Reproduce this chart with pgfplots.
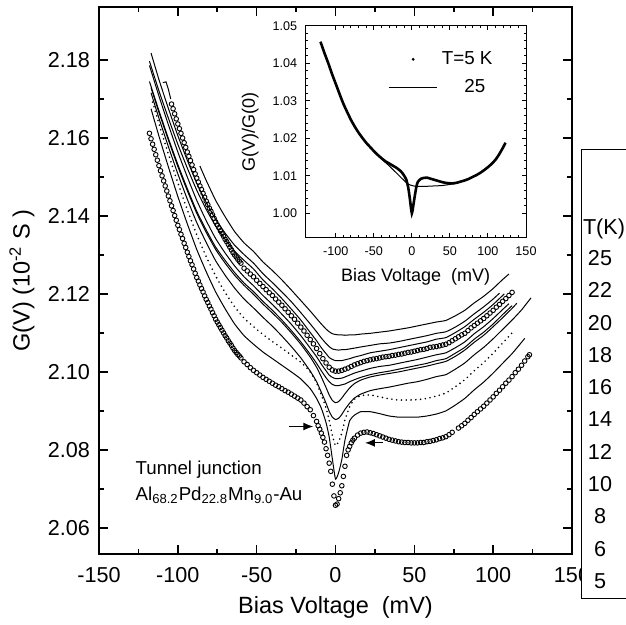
\documentclass[border=0pt]{standalone}
\usepackage{fontspec}
\setmainfont{Liberation Sans}
\usepackage{pgfplots}
\pgfplotsset{compat=1.18}
\usetikzlibrary{arrows.meta}
\pgfplotsset{
  lin/.style={black, line width=0.5pt, smooth, tension=0.3, mark=none},
  circ/.style={black, only marks, mark=o, mark size=1.15pt, mark options={line width=0.45pt}},
  dots/.style={black, line width=0.9pt, line cap=round, dash pattern=on 0pt off 2.4pt, smooth, tension=0.3},
}
\begin{document}
\begin{tikzpicture}
\begin{axis}[
  scale only axis, width=236.5pt, height=273.5pt,
  xmin=-150, xmax=150, ymin=2.0533, ymax=2.1936,
  xtick={-150,-100,-50,0,50,100,150},
  xticklabels={-150,-100,-50,0,50,100,150},
  ytick={2.06,2.08,2.10,2.12,2.14,2.16,2.18},
  yticklabels={2.06,2.08,2.10,2.12,2.14,2.16,2.18},
  minor x tick num=1, minor y tick num=1,
  tick align=inside,
  major tick length=4.5pt, minor tick length=2.5pt,
  axis line style={line width=0.8pt},
  tick style={line width=0.8pt, black},
  ticklabel style={font=\fontsize{10.8}{13}\selectfont},
  xticklabel style={yshift=-3pt},
  yticklabel style={xshift=-1pt},
  xlabel={Bias Voltage\ \ (mV)},
  ylabel={G(V) (10\textsuperscript{-2} S )},
  label style={font=\fontsize{11.75}{14}\selectfont},
  xlabel style={at={(axis description cs:0.5,-0.097)}, anchor=center},
  ylabel style={at={(axis description cs:-0.163,0.5)}, anchor=center},
]
% 25 K
\addplot[lin] coordinates {(-86,2.1528)(-82,2.1491)(-76,2.1440)(-70,2.1398)(-64,2.1360)(-58,2.1331)(-52,2.1309)(-46,2.1282)(-40,2.1260)(-34,2.1236)(-28,2.1210)(-22,2.1183)(-16,2.1156)(-12,2.1137)(-9,2.1123)(-6,2.1110)(-4,2.1103)(-2,2.1098)(0,2.1096)(2,2.1095)(4,2.1095)(6,2.1094)(9,2.1095)(12,2.1095)(16,2.1097)(22,2.1099)(28,2.1102)(34,2.1105)(40,2.1109)(46,2.1113)(52,2.1118)(58,2.1123)(64,2.1128)(70,2.1132)(76,2.1144)(82,2.1158)(88,2.1177)(94,2.1194)(100,2.1214)(106,2.1237)(110,2.1251)};
% 22 K
\addplot[lin] coordinates {(-117,2.1818)(-112,2.1750)(-106,2.1676)(-100,2.1606)(-94,2.1543)(-88,2.1484)(-82,2.1435)(-76,2.1391)(-70,2.1356)(-64,2.1325)(-58,2.1301)(-52,2.1279)(-46,2.1252)(-40,2.1229)(-34,2.1205)(-28,2.1180)(-22,2.1152)(-16,2.1123)(-12,2.1103)(-9,2.1087)(-6,2.1073)(-4,2.1065)(-2,2.1059)(0,2.1057)(2,2.1056)(4,2.1057)(6,2.1057)(9,2.1059)(12,2.1061)(16,2.1064)(22,2.1068)(28,2.1072)(34,2.1074)(40,2.1078)(46,2.1083)(52,2.1088)(58,2.1093)(64,2.1099)(70,2.1103)(76,2.1115)(82,2.1130)(88,2.1149)(94,2.1167)(100,2.1187)(104,2.1202)};
% 20 K
\addplot[lin] coordinates {(-118,2.1797)(-112,2.1721)(-106,2.1651)(-100,2.1584)(-94,2.1523)(-88,2.1466)(-82,2.1417)(-76,2.1374)(-70,2.1340)(-64,2.1310)(-58,2.1286)(-52,2.1264)(-46,2.1236)(-40,2.1213)(-34,2.1188)(-28,2.1161)(-22,2.1133)(-16,2.1101)(-12,2.1080)(-9,2.1062)(-6,2.1047)(-4,2.1037)(-2,2.1032)(0,2.1029)(2,2.1029)(4,2.1029)(6,2.1031)(9,2.1034)(12,2.1038)(16,2.1042)(22,2.1049)(28,2.1053)(34,2.1057)(40,2.1062)(46,2.1067)(52,2.1072)(58,2.1077)(64,2.1084)(70,2.1088)(76,2.1101)(82,2.1116)(88,2.1135)(94,2.1153)(100,2.1173)(107,2.1200)};
% short lead-in segment before the 18 K circles
\addplot[black, line width=0.5pt] coordinates {(-109.5,2.1742)(-107.5,2.1744)(-106,2.1725)(-104.5,2.1700)};
% 18 K (circles)
\addplot[circ] coordinates {(-104,2.1687)(-103,2.1675)(-102,2.1662)(-101,2.1649)(-100,2.1636)(-99,2.1624)(-98,2.1612)(-97,2.1600)(-96,2.1588)(-95,2.1576)(-94,2.1564)(-93,2.1553)(-92,2.1542)(-91,2.1531)(-90,2.1519)(-89,2.1508)(-88,2.1497)(-87,2.1487)(-86,2.1477)(-85,2.1468)(-84,2.1458)(-83,2.1448)(-82,2.1438)(-81,2.1429)(-80,2.1420)(-79,2.1412)(-78,2.1403)(-77,2.1394)(-76,2.1385)(-75,2.1377)(-74,2.1370)(-73,2.1362)(-72,2.1355)(-71,2.1348)(-70,2.1340)(-69,2.1334)(-68,2.1327)(-67,2.1320)(-66,2.1313)(-65,2.1306)(-64,2.1300)(-63,2.1295)(-62,2.1289)(-61,2.1284)(-60,2.1279)
(-58,2.1266)(-56,2.1259)(-54,2.1251)(-52,2.1244)(-50,2.1235)(-48,2.1227)(-46,2.1219)(-44,2.1211)(-42,2.1203)(-40,2.1196)(-38,2.1187)(-36,2.1179)(-34,2.1171)(-32,2.1162)(-30,2.1153)(-28,2.1144)(-26,2.1135)(-24,2.1125)(-22,2.1115)(-20,2.1105)(-18,2.1094)(-16,2.1083)(-14,2.1072)(-12,2.1060)(-10,2.1047)(-8,2.1034)(-6,2.1023)(-4,2.1012)(-2,2.1005)(0,2.1002)(2,2.1002)(4,2.1004)(6,2.1007)(8,2.1010)(10,2.1014)(12,2.1018)(14,2.1021)(16,2.1024)(18,2.1027)(20,2.1029)(22,2.1031)(24,2.1033)(26,2.1034)(28,2.1036)(30,2.1038)(32,2.1039)(34,2.1040)(36,2.1042)(38,2.1043)(40,2.1045)(42,2.1046)(44,2.1048)(46,2.1050)(48,2.1051)(50,2.1053)(52,2.1055)(54,2.1057)(56,2.1058)(58,2.1060)(60,2.1063)(62,2.1064)(64,2.1065)(66,2.1067)(68,2.1069)(70,2.1071)(72,2.1075)(74,2.1080)(76,2.1085)(78,2.1090)(80,2.1095)(82,2.1099)(84,2.1106)(86,2.1113)(88,2.1119)(90,2.1125)(92,2.1131)(94,2.1137)(96,2.1144)(98,2.1151)(100,2.1158)(102,2.1166)(104,2.1173)(106,2.1181)(108,2.1188)(110,2.1196)(112,2.1204)};
% 16 K
\addplot[lin] coordinates {(-118,2.1786)(-112,2.1708)(-106,2.1634)(-100,2.1564)(-94,2.1500)(-88,2.1440)(-82,2.1388)(-76,2.1342)(-70,2.1305)(-64,2.1272)(-58,2.1244)(-52,2.1221)(-46,2.1196)(-40,2.1173)(-34,2.1148)(-28,2.1122)(-22,2.1093)(-16,2.1061)(-12,2.1039)(-9,2.1020)(-6,2.1003)(-4,2.0992)(-2,2.0986)(0,2.0983)(2,2.0983)(4,2.0984)(6,2.0987)(9,2.0992)(12,2.0997)(16,2.1002)(22,2.1009)(28,2.1014)(34,2.1017)(40,2.1022)(46,2.1027)(52,2.1032)(58,2.1038)(64,2.1044)(70,2.1049)(76,2.1062)(82,2.1077)(88,2.1098)(94,2.1116)(100,2.1137)(106,2.1160)(110,2.1175)};
% 14 K
\addplot[lin] coordinates {(-118,2.1745)(-112,2.1670)(-106,2.1599)(-100,2.1532)(-94,2.1470)(-88,2.1412)(-82,2.1364)(-76,2.1320)(-70,2.1286)(-64,2.1255)(-58,2.1228)(-52,2.1206)(-46,2.1181)(-40,2.1158)(-34,2.1133)(-28,2.1106)(-22,2.1077)(-16,2.1045)(-12,2.1022)(-9,2.1003)(-6,2.0985)(-4,2.0975)(-2,2.0968)(0,2.0965)(2,2.0965)(4,2.0967)(6,2.0969)(9,2.0975)(12,2.0980)(16,2.0986)(22,2.0993)(28,2.0998)(34,2.1002)(40,2.1007)(46,2.1012)(52,2.1017)(58,2.1022)(64,2.1029)(70,2.1034)(76,2.1048)(82,2.1063)(88,2.1084)(94,2.1102)(100,2.1123)(106,2.1147)(112,2.1170)};
% 12 K
\addplot[lin] coordinates {(-117,2.1729)(-112,2.1666)(-106,2.1595)(-100,2.1527)(-94,2.1465)(-88,2.1407)(-82,2.1358)(-76,2.1314)(-70,2.1279)(-64,2.1248)(-58,2.1222)(-52,2.1199)(-46,2.1174)(-40,2.1151)(-34,2.1127)(-28,2.1100)(-22,2.1071)(-16,2.1038)(-12,2.1012)(-9,2.0987)(-6,2.0960)(-4,2.0941)(-2,2.0927)(0,2.0921)(2,2.0924)(4,2.0933)(6,2.0944)(9,2.0959)(12,2.0970)(16,2.0979)(22,2.0987)(28,2.0992)(34,2.0996)(40,2.1000)(46,2.1005)(52,2.1010)(58,2.1015)(64,2.1021)(70,2.1027)(76,2.1040)(82,2.1056)(88,2.1076)(94,2.1094)(100,2.1116)(106,2.1139)(112,2.1163)(115,2.1176)};
% 10 K
\addplot[lin] coordinates {(-117,2.1716)(-112,2.1651)(-106,2.1578)(-100,2.1508)(-94,2.1443)(-88,2.1383)(-82,2.1332)(-76,2.1285)(-70,2.1248)(-64,2.1215)(-58,2.1187)(-52,2.1164)(-46,2.1140)(-40,2.1117)(-34,2.1092)(-28,2.1065)(-22,2.1036)(-16,2.1002)(-12,2.0975)(-9,2.0948)(-6,2.0920)(-4,2.0899)(-2,2.0884)(0,2.0878)(2,2.0881)(4,2.0891)(6,2.0904)(9,2.0920)(12,2.0933)(16,2.0943)(22,2.0952)(28,2.0957)(34,2.0961)(40,2.0966)(46,2.0971)(52,2.0975)(58,2.0981)(64,2.0988)(70,2.0993)(76,2.1007)(82,2.1023)(88,2.1044)(94,2.1063)(100,2.1085)(106,2.1109)(112,2.1133)(118,2.1159)(124,2.1190)};
% 8 K (dots)
\addplot[dots] coordinates {(-116,2.1692)(-112,2.1637)(-106,2.1559)(-100,2.1485)(-94,2.1416)(-88,2.1352)(-82,2.1296)(-76,2.1246)(-70,2.1204)(-64,2.1167)(-58,2.1138)(-52,2.1116)(-46,2.1096)(-40,2.1078)(-34,2.1061)(-28,2.1043)(-22,2.1025)(-16,2.1000)(-12,2.0972)(-9,2.0941)(-6,2.0908)(-4,2.0876)(-2,2.0837)(0,2.0811)(2,2.0821)(4,2.0843)(6,2.0877)(9,2.0911)(12,2.0930)(16,2.0939)(22,2.0941)(28,2.0936)(34,2.0931)(40,2.0928)(46,2.0928)(52,2.0929)(58,2.0932)(64,2.0938)(70,2.0946)(76,2.0962)(82,2.0980)(88,2.1003)(94,2.1024)(100,2.1048)(106,2.1074)(112,2.1100)};
% 6 K
\addplot[lin] coordinates {(-117,2.1675)(-112,2.1605)(-106,2.1526)(-100,2.1450)(-94,2.1380)(-88,2.1314)(-82,2.1257)(-76,2.1205)(-70,2.1162)(-64,2.1123)(-58,2.1093)(-52,2.1071)(-46,2.1051)(-40,2.1034)(-34,2.1017)(-28,2.1000)(-22,2.0982)(-16,2.0957)(-12,2.0932)(-9,2.0907)(-6,2.0870)(-4,2.0833)(-2,2.0777)(0,2.0725)(2,2.0742)(4,2.0775)(6,2.0825)(9,2.0875)(12,2.0889)(16,2.0898)(22,2.0898)(28,2.0893)(34,2.0887)(40,2.0884)(46,2.0884)(52,2.0884)(58,2.0887)(64,2.0892)(70,2.0900)(76,2.0915)(82,2.0932)(88,2.0954)(94,2.0974)(100,2.0997)(106,2.1022)(112,2.1047)(118,2.1076)(120,2.1086)};
% 5 K (circles)
\addplot[circ] coordinates {(-118,2.1612)(-117,2.1598)(-116,2.1584)(-115,2.1571)(-114,2.1557)(-113,2.1543)(-112,2.1529)(-111,2.1516)(-110,2.1503)(-109,2.1490)(-108,2.1477)(-107,2.1464)(-106,2.1451)(-105,2.1439)(-104,2.1426)(-103,2.1414)(-102,2.1401)(-101,2.1389)(-100,2.1376)(-99,2.1365)(-98,2.1353)(-97,2.1342)(-96,2.1330)(-95,2.1319)(-94,2.1307)(-93,2.1296)(-92,2.1285)(-91,2.1275)(-90,2.1264)(-89,2.1253)(-88,2.1242)(-87,2.1233)(-86,2.1223)(-85,2.1214)(-84,2.1205)(-83,2.1195)(-82,2.1186)(-81,2.1178)(-80,2.1169)(-79,2.1161)(-78,2.1152)(-77,2.1144)(-76,2.1135)(-75,2.1128)(-74,2.1121)(-73,2.1114)(-72,2.1107)(-71,2.1100)(-70,2.1093)(-69,2.1087)(-68,2.1080)(-67,2.1074)(-66,2.1068)(-65,2.1061)(-64,2.1055)(-63,2.1050)(-62,2.1045)(-61,2.1041)(-60,2.1036)
(-58,2.1026)(-56,2.1019)(-54,2.1011)(-52,2.1004)(-50,2.0998)(-48,2.0992)(-46,2.0986)(-44,2.0981)(-42,2.0976)(-40,2.0971)(-38,2.0966)(-36,2.0962)(-34,2.0957)(-32,2.0952)(-30,2.0948)(-28,2.0943)(-26,2.0938)(-24,2.0933)(-22,2.0928)(-20,2.0920)(-18,2.0911)(-16,2.0903)(-14,2.0888)(-12,2.0873)
(-11,2.0862)(-10,2.0853)(-9,2.0843)(-8,2.0832)(-7,2.0820)(-6,2.0803)(-5,2.0786)(-4,2.0766)(-3,2.0745)(-2,2.0712)(-1,2.0682)(0,2.0658)(1,2.0661)(2,2.0675)(3,2.0690)(4,2.0708)(5,2.0732)(6,2.0758)(7,2.0786)(8,2.0800)(9,2.0809)(10,2.0818)(11,2.0825)(12,2.0830)
(14,2.0838)(16,2.0843)(18,2.0845)(20,2.0846)(22,2.0844)(24,2.0842)(26,2.0839)(28,2.0836)(30,2.0833)(32,2.0830)(34,2.0827)(36,2.0825)(38,2.0823)(40,2.0821)(42,2.0820)(44,2.0819)(46,2.0819)(48,2.0818)(50,2.0818)(52,2.0818)(54,2.0819)(56,2.0819)(58,2.0821)(60,2.0822)(62,2.0824)(64,2.0826)(66,2.0829)(68,2.0831)(70,2.0834)(72,2.0839)(74,2.0845)(78,2.0856)(80,2.0862)(82,2.0868)(84,2.0876)(86,2.0883)(88,2.0891)(90,2.0898)(92,2.0905)(94,2.0912)(96,2.0920)(98,2.0928)(100,2.0936)(102,2.0945)(104,2.0953)(106,2.0962)(108,2.0971)(110,2.0979)(112,2.0988)(114,2.0998)(116,2.1007)(118,2.1017)(120,2.1028)(122,2.1039)(123,2.1044)};
\draw[-{Latex[length=5pt,width=4pt]}, line width=0.6pt] (axis cs:-29.5,2.0860) -- (axis cs:-14.1,2.0860);
\draw[-{Latex[length=5pt,width=4pt]}, line width=0.6pt] (axis cs:30,2.0818) -- (axis cs:18.7,2.0818);
\node[anchor=west, align=left, inner sep=0pt, font=\fontsize{9.35}{13.35}\selectfont] at (axis cs:-127,2.0717) {Tunnel junction\\Al\textsubscript{68.2}Pd\textsubscript{22.8}Mn\textsubscript{9.0}-Au};
\end{axis}
% inset
\begin{axis}[
  at={(103.15pt,158.15pt)}, anchor=south west,
  scale only axis, width=110.35pt, height=106pt,
  xmin=-140, xmax=150, ymin=0.9935, ymax=1.05,
  xtick={-100,-50,0,50,100,150},
  xticklabels={-100,-50,0,50,100,150},
  ytick={1.00,1.01,1.02,1.03,1.04,1.05},
  yticklabels={1.00,1.01,1.02,1.03,1.04,1.05},
  minor x tick num=4, minor y tick num=4,
  tick align=inside,
  major tick length=2.2pt, minor tick length=1.1pt,
  axis line style={line width=0.5pt},
  tick style={line width=0.5pt, black},
  ticklabel style={font=\fontsize{6.3}{7.5}\selectfont},
  xticklabel style={yshift=-1pt},
  yticklabel style={xshift=-0.5pt},
  xlabel={Bias Voltage\ \ (mV)},
  ylabel={G(V)/G(0)},
  label style={font=\fontsize{9}{11}\selectfont},
  xlabel style={at={(axis description cs:0.5,-0.184)}, anchor=center},
  ylabel style={at={(axis description cs:-0.25,0.5)}, anchor=center},
  axis background/.style={fill=white},
  legend cell align={left},
  legend style={draw=none, fill=none, at={(0.375,0.90)}, anchor=north west,
    font=\fontsize{9.4}{11}\selectfont, row sep=2pt, inner sep=0pt},
]
\addplot[black, line width=1.3pt, smooth, tension=0.3,
  legend image code/.code={\path[draw=none, fill=none] (0cm,0cm) rectangle (0.85cm,0cm); \path[draw=none, fill=black] (0.425cm,0cm) circle (0.8pt);}]
  coordinates {(-120,1.0457)(-115,1.0428)(-110,1.0401)(-105,1.0372)(-100,1.0345)(-95,1.0318)(-90,1.0292)(-85,1.0270)(-80,1.0249)(-75,1.0231)(-70,1.0215)(-65,1.0201)(-60,1.0188)(-55,1.0177)(-50,1.0166)(-45,1.0156)(-40,1.0147)(-35,1.0139)(-30,1.0133)(-25,1.0127)(-20,1.0121)(-15,1.0113)(-12,1.0106)(-10,1.0100)(-8,1.0093)(-7,1.0088)(-6,1.0080)(-5,1.0071)(-4,1.0059)(-3,1.0045)(-2,1.0029)(-1,1.0012)(0,1.0000)(1,1.0008)(2,1.0022)(3,1.0035)(4,1.0048)(5,1.0060)(6,1.0071)(7,1.0079)(8,1.0084)(10,1.0089)(12,1.0092)(15,1.0094)(20,1.0095)(25,1.0092)(30,1.0089)(35,1.0086)(40,1.0083)(45,1.0081)(50,1.0080)(55,1.0080)(60,1.0082)(65,1.0085)(70,1.0088)(75,1.0092)(80,1.0097)(85,1.0102)(90,1.0108)(95,1.0115)(100,1.0123)(105,1.0132)(110,1.0143)(115,1.0158)(120,1.0176)(123,1.0188)};
\addlegendentry{T=5 K}
\addplot[black, line width=0.5pt, smooth, tension=0.3,
  legend image code/.code={\draw[black, line width=0.5pt] (0cm,0cm) -- (0.85cm,0cm);}]
  coordinates {(-120,1.0457)(-115,1.0428)(-110,1.0401)(-105,1.0372)(-100,1.0345)(-95,1.0318)(-90,1.0292)(-85,1.0270)(-80,1.0249)(-75,1.0231)(-70,1.0215)(-65,1.0201)(-60,1.0188)(-55,1.0177)(-50,1.0166)(-45,1.0156)(-40,1.0146)(-35,1.0136)(-30,1.0127)(-25,1.0117)(-20,1.0107)(-15,1.0097)(-10,1.0087)(-5,1.0078)(0,1.0074)(5,1.0072)(10,1.0072)(20,1.0072)(30,1.0073)(40,1.0074)(50,1.0077)(60,1.0081)(70,1.0088)(80,1.0097)(90,1.0108)(100,1.0123)(110,1.0143)(120,1.0176)(123,1.0188)};
\addlegendentry{\hphantom{T=}25}
\end{axis}
% temperature key box (clipped at the right edge)
\draw[fill=white, line width=0.5pt] (241pt,-22.5pt) rectangle (290pt,202pt);
\node[anchor=base west, inner sep=0pt, font=\fontsize{10.8}{13}\selectfont] at (241.8pt,159.6pt) {T(K)};
\node[align=center, inner sep=0pt, font=\fontsize{10.8}{16.15}\selectfont] at (250.5pt,67.25pt) {25\\22\\20\\18\\16\\14\\12\\10\\8\\6\\5};
\pgfresetboundingbox
\useasboundingbox (-49.5pt,-35.5pt) rectangle (263pt,277pt);
\end{tikzpicture}
\end{document}
